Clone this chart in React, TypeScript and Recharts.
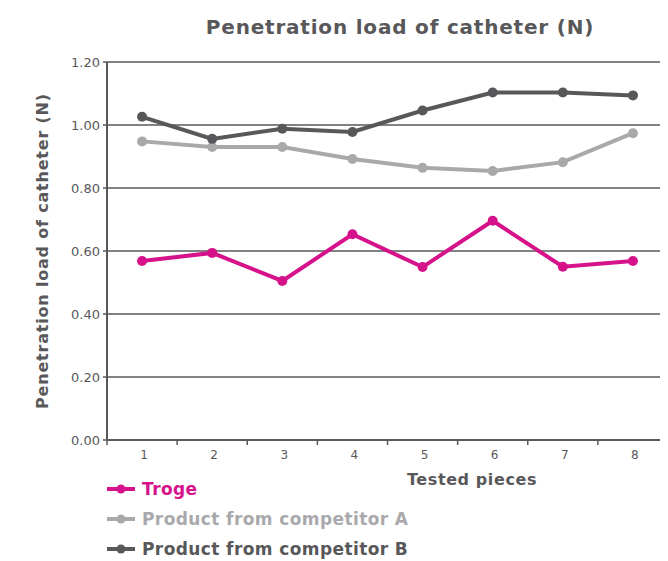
import React from 'react';
import { LineChart, Line, XAxis, YAxis, CartesianGrid } from 'recharts';

const pieces = ['1', '2', '3', '4', '5', '6', '7', '8'];
const troge = [0.568, 0.594, 0.505, 0.653, 0.549, 0.696, 0.55, 0.568];
const competitorA = [0.948, 0.93, 0.93, 0.892, 0.864, 0.854, 0.882, 0.974];
const competitorB = [1.026, 0.956, 0.988, 0.978, 1.046, 1.103, 1.103, 1.094];
const yTicks = [0, 0.2, 0.4, 0.6, 0.8, 1.0, 1.2];

const seriesInfo = [
  { key: 'troge', name: 'Troge', color: '#d6128b' },
  { key: 'a', name: 'Product from competitor A', color: '#a9a9ac' },
  { key: 'b', name: 'Product from competitor B', color: '#58585a' },
];

const data = pieces.map((p, i) => ({
  piece: p,
  troge: troge[i],
  a: competitorA[i],
  b: competitorB[i],
}));

const W = 660;
const H = 553;
const LEFT = 99;
const BAND = (W - LEFT) / pieces.length;
const FONT = '"DejaVu Sans", sans-serif';
const TEXT = '#58585a';

function PieceTick(props: any) {
  const { x, y, payload } = props;
  return (
    <g>
      <line x1={x - BAND / 2} y1={y - 8} x2={x - BAND / 2} y2={y - 3} stroke={TEXT} strokeWidth={1.5} />
      <text x={x + 2} y={y + 11} textAnchor="middle" fill={TEXT} fontSize={12} fontFamily={FONT}>
        {payload.value}
      </text>
    </g>
  );
}

export default function App() {
  return (
    <div style={{ position: 'relative', width: W, height: H, fontFamily: FONT }}>
      <div
        style={{
          position: 'absolute', left: 0, top: 7, width: 784, textAlign: 'center',
          fontSize: 20, fontWeight: 'bold', color: TEXT, letterSpacing: 0.8,
        }}
      >
        Penetration load of catheter (N)
      </div>
      <div style={{ position: 'absolute', left: 34, top: 243, width: 0, height: 0 }}>
        <div
          style={{
            position: 'absolute', transform: 'translate(-50%, -50%) rotate(-90deg)',
            whiteSpace: 'nowrap', fontSize: 16, fontWeight: 'bold', color: TEXT, letterSpacing: 0.8,
          }}
        >
          Penetration load of catheter (N)
        </div>
      </div>
      <div
        style={{
          position: 'absolute', left: 364, top: 462, width: 200, textAlign: 'center',
          fontSize: 16, fontWeight: 'bold', color: TEXT, letterSpacing: 0.6,
        }}
      >
        Tested pieces
      </div>
      <LineChart width={W} height={H} data={data} margin={{ top: 54, right: 0, bottom: 91, left: 0 }}>
        <CartesianGrid vertical={false} stroke={TEXT} strokeWidth={1.5} />
        <XAxis
          dataKey="piece"
          scale="band"
          height={30}
          tickLine={false}
          axisLine={{ stroke: TEXT, strokeWidth: 2 }}
          tick={<PieceTick />}
          interval={0}
        />
        <YAxis
          width={LEFT}
          domain={[0, 1.2]}
          ticks={yTicks}
          tickFormatter={(v: number) => v.toFixed(2)}
          tickSize={4}
          tickMargin={3}
          axisLine={{ stroke: TEXT, strokeWidth: 2 }}
          tickLine={{ stroke: TEXT, strokeWidth: 1.5 }}
          tick={{ fill: TEXT, fontSize: 13, fontFamily: FONT }}
        />
        {[seriesInfo[1], seriesInfo[2], seriesInfo[0]].map((s) => (
          <Line
            key={s.key}
            type="linear"
            dataKey={s.key}
            name={s.name}
            stroke={s.color}
            strokeWidth={4}
            dot={{ r: 5, fill: s.color, stroke: 'none' }}
            activeDot={false}
            isAnimationActive={false}
          />
        ))}
      </LineChart>
      <div style={{ position: 'absolute', left: 99, top: 466 }}>
        {seriesInfo.map((s) => (
          <div key={s.key} style={{ display: 'flex', alignItems: 'center', height: 30 }}>
            <svg width={29} height={12} style={{ marginRight: 6 }}>
              <line x1={0} y1={6} x2={28} y2={6} stroke={s.color} strokeWidth={4} />
              <circle cx={14} cy={6} r={4.5} fill={s.color} />
            </svg>
            <span style={{ fontSize: 17, fontWeight: 'bold', color: s.color, letterSpacing: 0.4 }}>{s.name}</span>
          </div>
        ))}
      </div>
    </div>
  );
}
